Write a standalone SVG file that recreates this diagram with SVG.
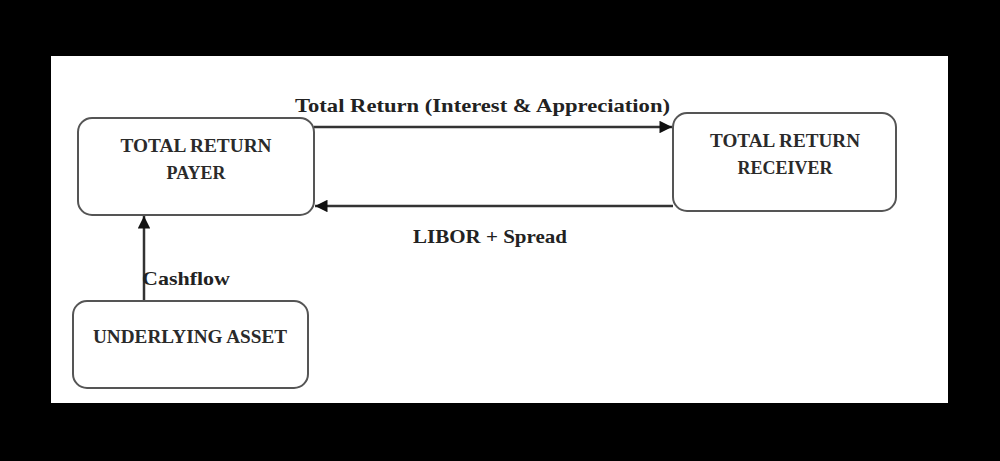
<svg xmlns="http://www.w3.org/2000/svg" width="1000" height="461" viewBox="0 0 1000 461">
<style>
.box{fill:#fff;stroke:#555;stroke-width:2}
.t{font-family:"Liberation Serif","Times New Roman",serif;font-weight:bold;fill:#2a2a2a;font-size:18px;text-anchor:middle}
.l{font-family:"Liberation Serif","Times New Roman",serif;font-weight:bold;fill:#222;font-size:19px}
.c{stroke:#333;stroke-width:2.5;fill:none}
</style>
<defs>
<marker id="ah" viewBox="0 0 10 10" refX="10" refY="5" markerWidth="6" markerHeight="5" markerUnits="strokeWidth" orient="auto">
<path d="M0,0 L10,5 L0,10 z" fill="#111"/>
</marker>
</defs>
<rect x="0" y="0" width="1000" height="461" fill="#000"/>
<rect x="51" y="56" width="897" height="347" fill="#fff"/>
<g id="connectors">
<line class="c" x1="314" y1="127" x2="672" y2="127" marker-end="url(#ah)"/>
<line class="c" x1="673" y1="206" x2="315" y2="206" marker-end="url(#ah)"/>
<line class="c" x1="144" y1="301" x2="144" y2="216" marker-end="url(#ah)"/>
<text class="l" x="295" y="112" textLength="375" lengthAdjust="spacingAndGlyphs">Total Return (Interest &amp; Appreciation)</text>
<text class="l" x="413" y="243" textLength="154" lengthAdjust="spacingAndGlyphs">LIBOR + Spread</text>
<text class="l" x="142" y="285" textLength="88" lengthAdjust="spacingAndGlyphs">Cashflow</text>
</g>
<g id="payer">
<rect class="box" x="78" y="118" width="236" height="97" rx="14"/>
<text class="t" x="196" y="152" textLength="151" lengthAdjust="spacingAndGlyphs">TOTAL RETURN</text>
<text class="t" x="196" y="179">PAYER</text>
</g>
<g id="receiver">
<rect class="box" x="673" y="113" width="223" height="98" rx="14"/>
<text class="t" x="785" y="147" textLength="150" lengthAdjust="spacingAndGlyphs">TOTAL RETURN</text>
<text class="t" x="785" y="174">RECEIVER</text>
</g>
<g id="underlying">
<rect class="box" x="73" y="301" width="235" height="87" rx="14"/>
<text class="t" x="190" y="343" textLength="194" lengthAdjust="spacingAndGlyphs">UNDERLYING ASSET</text>
</g>
</svg>
